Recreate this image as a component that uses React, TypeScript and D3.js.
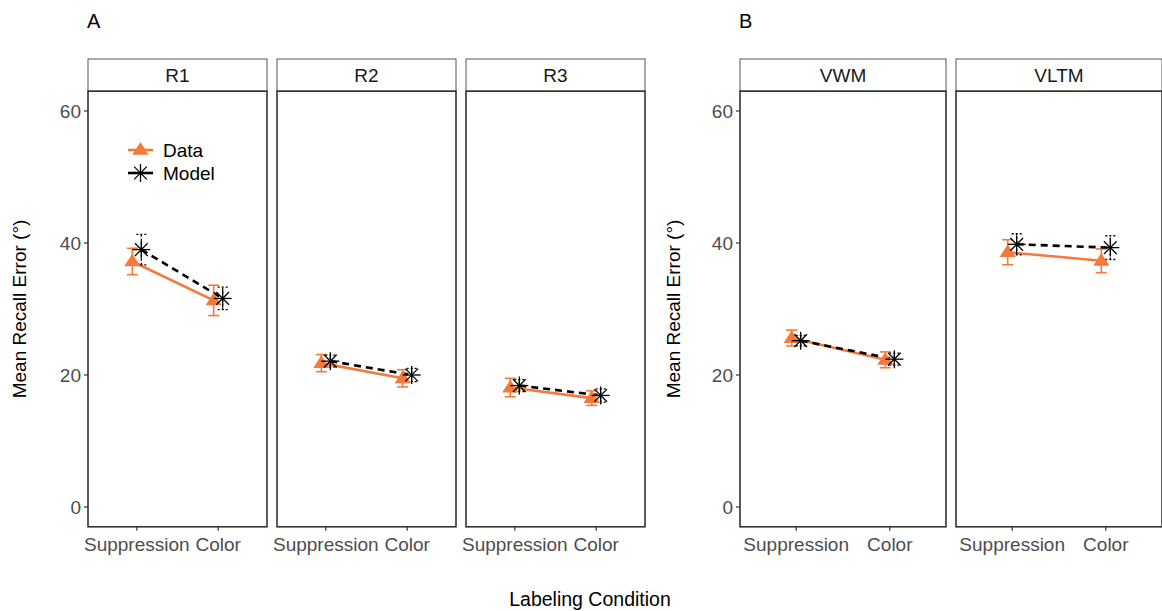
import React from "react";
import * as d3 from "d3";

const conditions = ["Suppression", "Color"];
const panelsA = ["R1", "R2", "R3"];
const panelsB = ["VWM", "VLTM"];
const yTicks = [0, 20, 40, 60];

// per panel: [Suppression, Color]
const dataMean: Record<string, number[]> = {
  R1: [37.2, 31.3], R2: [21.8, 19.5], R3: [18.1, 16.5], VWM: [25.6, 22.3], VLTM: [38.6, 37.3],
};
const dataErr: Record<string, number[]> = {
  R1: [2.0, 2.3], R2: [1.3, 1.3], R3: [1.4, 1.1], VWM: [1.2, 1.2], VLTM: [1.9, 1.8],
};
const modelMean: Record<string, number[]> = {
  R1: [39.0, 31.6], R2: [22.1, 20.0], R3: [18.4, 16.9], VWM: [25.2, 22.4], VLTM: [39.8, 39.3],
};
const modelErr: Record<string, number[]> = {
  R1: [2.3, 1.7], R2: [0.9, 1.0], R3: [0.9, 1.0], VWM: [0.8, 0.9], VLTM: [1.6, 1.8],
};

const ORANGE = "#F47A3B";
const FONT = "Liberation Sans, Arial, sans-serif";
const FS = 19;

const yScale = d3.scaleLinear().domain([-3, 63]).range([526.8, 91.2]);
const stripTop = 59;

function Star({ x, y, r = 9 }: { x: number; y: number; r?: number }) {
  const lines = [0, 45, 90, 135].map((a) => {
    const rad = (a * Math.PI) / 180;
    return (
      <line key={a} x1={x - r * Math.cos(rad)} y1={y - r * Math.sin(rad)} x2={x + r * Math.cos(rad)} y2={y + r * Math.sin(rad)} stroke="#000" strokeWidth={1.3} />
    );
  });
  return <g>{lines}</g>;
}

function Tri({ x, y, s = 8.5 }: { x: number; y: number; s?: number }) {
  const h = s * 1.5;
  return <path d={`M${x},${y - h * 0.62} L${x + s * 0.95},${y + h * 0.38} L${x - s * 0.95},${y + h * 0.38} Z`} fill={ORANGE} />;
}

function Panel({ name, x0, w }: { name: string; x0: number; w: number }) {
  const xs = d3.scaleLinear().domain([0.4, 2.6]).range([x0, x0 + w]);
  const dodge = 4.5;
  const dm = dataMean[name], de = dataErr[name], mm = modelMean[name], me = modelErr[name];
  const dx = conditions.map((_, i) => xs(i + 1) - dodge);
  const mx = conditions.map((_, i) => xs(i + 1) + dodge);
  const top = yScale.range()[1], bot = yScale.range()[0];
  const dataLine = d3.line<number>().x((_, i) => dx[i]).y((v) => yScale(v))(dm) || "";
  const modelLine = d3.line<number>().x((_, i) => mx[i]).y((v) => yScale(v))(mm) || "";
  return (
    <g>
      <rect x={x0} y={stripTop} width={w} height={top - stripTop} fill="#fff" stroke="#555" strokeWidth={1} />
      <text x={x0 + w / 2} y={(stripTop + top) / 2 + 6.5} textAnchor="middle" fontSize={FS} fill="#1a1a1a" fontFamily={FONT}>{name}</text>
      <rect x={x0} y={top} width={w} height={bot - top} fill="#fff" stroke="#333" strokeWidth={1.6} />
      {conditions.map((c, i) => (
        <g key={c}>
          <line x1={xs(i + 1)} x2={xs(i + 1)} y1={bot} y2={bot + 4} stroke="#333" strokeWidth={1.2} />
          <text x={xs(i + 1)} y={bot + 24} textAnchor="middle" fontSize={FS} fill="#4d4d4d" fontFamily={FONT}>{c}</text>
        </g>
      ))}
      {dm.map((v, i) => (
        <g key={"de" + i} stroke={ORANGE} strokeWidth={1.6}>
          <line x1={dx[i]} x2={dx[i]} y1={yScale(v - de[i])} y2={yScale(v + de[i])} />
          <line x1={dx[i] - 5.5} x2={dx[i] + 5.5} y1={yScale(v - de[i])} y2={yScale(v - de[i])} />
          <line x1={dx[i] - 5.5} x2={dx[i] + 5.5} y1={yScale(v + de[i])} y2={yScale(v + de[i])} />
        </g>
      ))}
      <path d={dataLine} fill="none" stroke={ORANGE} strokeWidth={2.6} />
      {mm.map((v, i) => (
        <g key={"me" + i} stroke="#000" strokeWidth={1.3} strokeDasharray="2,2">
          <line x1={mx[i]} x2={mx[i]} y1={yScale(v - me[i])} y2={yScale(v + me[i])} />
          <line x1={mx[i] - 5} x2={mx[i] + 5} y1={yScale(v - me[i])} y2={yScale(v - me[i])} />
          <line x1={mx[i] - 5} x2={mx[i] + 5} y1={yScale(v + me[i])} y2={yScale(v + me[i])} />
        </g>
      ))}
      <path d={modelLine} fill="none" stroke="#000" strokeWidth={2.6} strokeDasharray="7,5" />
      {dm.map((v, i) => <Tri key={"t" + i} x={dx[i]} y={yScale(v)} />)}
      {mm.map((v, i) => <Star key={"s" + i} x={mx[i]} y={yScale(v)} />)}
    </g>
  );
}

function YAxis({ x }: { x: number }) {
  return (
    <g>
      {yTicks.map((t) => (
        <g key={t}>
          <line x1={x - 4} x2={x} y1={yScale(t)} y2={yScale(t)} stroke="#333" strokeWidth={1.2} />
          <text x={x - 7} y={yScale(t) + 6.5} textAnchor="end" fontSize={FS} fill="#4d4d4d" fontFamily={FONT}>{t}</text>
        </g>
      ))}
    </g>
  );
}

export default function App() {
  const midY = (yScale.range()[0] + yScale.range()[1]) / 2;
  const aX0 = 88, aW = 179, aGap = 10;
  const bX0 = 740, bW = 206, bGap = 10;
  return (
    <svg width={1162} height={611} style={{ position: "absolute", left: 0, top: 0, background: "#fff" }} fontFamily={FONT}>
      <rect width={1162} height={611} fill="#fff" />
      <text x={87} y={28} fontSize={20} fill="#000">A</text>
      <text x={739} y={28} fontSize={20} fill="#000">B</text>
      <text transform={`translate(26,${midY}) rotate(-90)`} textAnchor="middle" fontSize={FS} fill="#000">Mean Recall Error (°)</text>
      <text transform={`translate(680,${midY}) rotate(-90)`} textAnchor="middle" fontSize={FS} fill="#000">Mean Recall Error (°)</text>
      <YAxis x={aX0} />
      <YAxis x={bX0} />
      {panelsA.map((p, i) => <Panel key={p} name={p} x0={aX0 + i * (aW + aGap)} w={aW} />)}
      {panelsB.map((p, i) => <Panel key={p} name={p} x0={bX0 + i * (bW + bGap)} w={bW} />)}
      <g>
        <line x1={128} x2={153} y1={150} y2={150} stroke={ORANGE} strokeWidth={2.6} />
        <Tri x={140.5} y={150} />
        <text x={163} y={157} fontSize={FS} fill="#000">Data</text>
        <line x1={128} x2={153} y1={173} y2={173} stroke="#000" strokeWidth={2.6} />
        <Star x={140.5} y={173} />
        <text x={163} y={180} fontSize={FS} fill="#000">Model</text>
      </g>
      <text x={590} y={606} textAnchor="middle" fontSize={19.5} fill="#000">Labeling Condition</text>
    </svg>
  );
}
